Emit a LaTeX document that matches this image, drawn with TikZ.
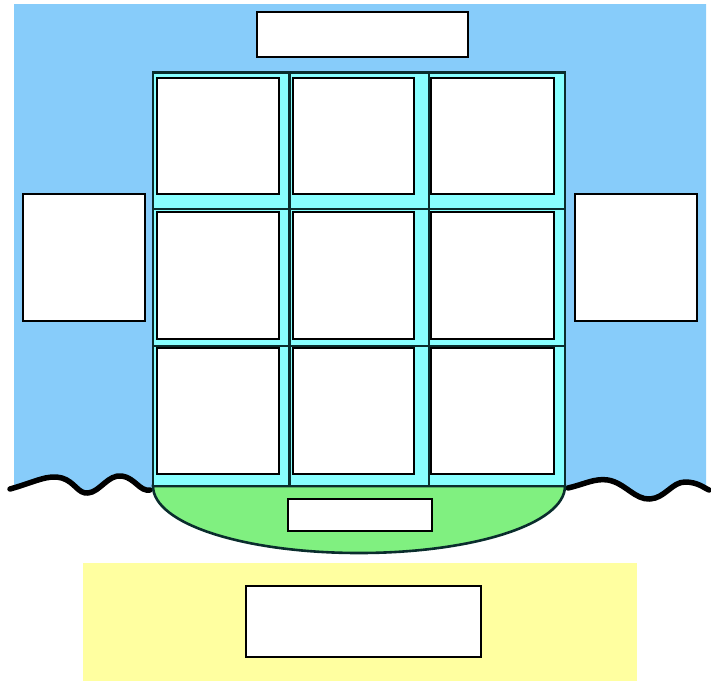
\documentclass[tikz,border=0pt]{standalone}
\definecolor{skyb}{RGB}{135,204,250}
\definecolor{cyanf}{RGB}{136,255,255}
\definecolor{greenf}{RGB}{128,240,128}
\definecolor{yellowf}{RGB}{255,255,160}
\definecolor{panelline}{RGB}{10,45,45}
\begin{document}
\begin{tikzpicture}[x=1pt,y=-1pt,
  box/.style={draw=black,fill=white,line width=1.8pt,inner sep=0pt,outer sep=0pt,anchor=north west},
  panel/.style={draw=panelline,fill=cyanf,line width=2.6pt},
  wave/.style={draw=black,line width=5.5pt,line cap=round,line join=round}]
\useasboundingbox (0,0) rectangle (711,681);
% yellow base
\fill[yellowf] (83,563) rectangle (637,681);
% blue sky, bottom follows the waves
\begin{scope}
  \clip (14,4) rectangle (706,700);
  \fill[skyb] (10,489) .. controls (35,482) and (48,474) .. (62,478)
     .. controls (75,482) and (78,494) .. (88,493)
     .. controls (100,492) and (108,474) .. (122,476)
     .. controls (135,478) and (140,492) .. (150,490)
     -- (153,486) -- (565,486) -- (568,488)
     .. controls (585,484) and (595,478) .. (608,480)
     .. controls (625,483) and (635,500) .. (650,499)
     .. controls (665,498) and (672,482) .. (685,482)
     .. controls (698,482) and (704,488) .. (711,490)
     -- (711,0) -- (10,0) -- cycle;
\end{scope}
% waves
\draw[wave] (10,489) .. controls (35,482) and (48,474) .. (62,478)
     .. controls (75,482) and (78,494) .. (88,493)
     .. controls (100,492) and (108,474) .. (122,476)
     .. controls (135,478) and (140,492) .. (150,490);
\draw[wave] (568,488)
     .. controls (585,484) and (595,478) .. (608,480)
     .. controls (625,483) and (635,500) .. (650,499)
     .. controls (665,498) and (672,482) .. (685,482)
     .. controls (698,482) and (704,488) .. (709,490);
% green bowl
\filldraw[fill=greenf,draw=panelline,line width=2.6pt]
  (153,486) .. controls (153,524) and (245,553) .. (359,553)
  .. controls (473,553) and (565,524) .. (565,486) -- cycle;
% grid panels
\foreach \xa/\xb in {153/289.5,289.5/429,429/565}{
  \foreach \ya/\yb in {72.5/209,209/346,346/486}{
    \draw[panel] (\xa,\ya) rectangle (\xb,\yb);
  }
}
% cells
\node[box,minimum width=122pt,minimum height=116pt] (c11) at (157,78) {};
\node[box,minimum width=121pt,minimum height=116pt] (c12) at (293,78) {};
\node[box,minimum width=123pt,minimum height=116pt] (c13) at (431,78) {};
\node[box,minimum width=122pt,minimum height=127pt] (c21) at (157,212) {};
\node[box,minimum width=121pt,minimum height=127pt] (c22) at (293,212) {};
\node[box,minimum width=123pt,minimum height=127pt] (c23) at (431,212) {};
\node[box,minimum width=122pt,minimum height=126pt] (c31) at (157,348) {};
\node[box,minimum width=121pt,minimum height=126pt] (c32) at (293,348) {};
\node[box,minimum width=123pt,minimum height=126pt] (c33) at (431,348) {};
% other boxes
\node[box,minimum width=211pt,minimum height=45pt] (top) at (257,12) {};
\node[box,minimum width=122pt,minimum height=127pt] (left) at (23,194) {};
\node[box,minimum width=122pt,minimum height=127pt] (right) at (575,194) {};
\node[box,minimum width=144pt,minimum height=32pt] (bowl) at (288,499) {};
\node[box,minimum width=235pt,minimum height=71pt] (base) at (246,586) {};
\end{tikzpicture}
\end{document}
